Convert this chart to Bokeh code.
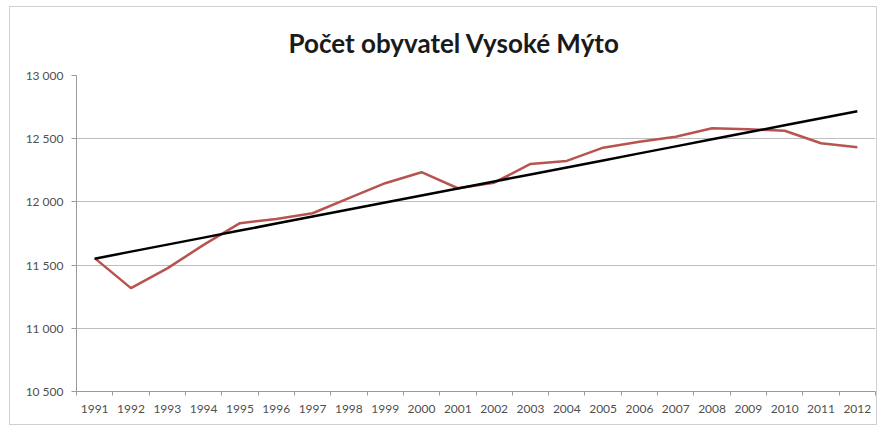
import numpy as np
from bokeh.plotting import figure
from bokeh.models import FixedTicker, ColumnDataSource, Range1d
from bokeh.embed import file_html
from bokeh.resources import INLINE

years = list(range(1991, 2013))
population = [11555, 11318, 11474, 11660, 11832, 11865, 11910, 12030, 12148, 12235, 12108,
              12152, 12300, 12324, 12429, 12476, 12516, 12582, 12574, 12563, 12464, 12432]
y_ticks = [10500, 11000, 11500, 12000, 12500, 13000]
y_tick_labels = ["10 500", "11 000", "11 500", "12 000", "12 500", "13 000"]

# linear trend line (Excel trendline)
coef = np.polyfit(years, population, 1)
trend = [float(coef[0] * y + coef[1]) for y in years]

src = ColumnDataSource(dict(x=years, pop=population, trend=trend))

p = figure(width=868, height=419, output_backend="svg", toolbar_location=None,
           title="Počet obyvatel Vysoké Mýto",
           x_range=Range1d(years[0] - 0.5, years[-1] + 0.5),
           y_range=Range1d(y_ticks[0], y_ticks[-1]),
           min_border_left=66, min_border_right=3, min_border_top=65, min_border_bottom=35)

p.title.text_font = "Lato"
p.title.text_font_style = "bold"
p.title.text_font_size = "26px"
p.title.text_color = "#1a1a1a"
p.title.align = "left"
p.title.standoff = 34
p.title.offset = 212

p.line("x", "pop", source=src, line_color="#b85450", line_width=2.5)
p.line("x", "trend", source=src, line_color="#000000", line_width=2.5)

p.outline_line_color = None
p.xgrid.grid_line_color = None
p.ygrid.grid_line_color = "#bdbdbd"
p.ygrid.grid_line_width = 1
p.ygrid.ticker = FixedTicker(ticks=y_ticks)

xa = p.xaxis[0]
xa.ticker = FixedTicker(ticks=years, minor_ticks=[y - 0.5 for y in years] + [years[-1] + 0.5])
xa.major_tick_line_color = None
xa.minor_tick_line_color = "#9a9a9a"
xa.minor_tick_out = 4
xa.minor_tick_in = 0
xa.axis_line_color = "#9a9a9a"
xa.major_label_text_font = "Lato"
xa.major_label_text_font_size = "12px"
xa.major_label_text_color = "#505050"
xa.major_label_standoff = 7

ya = p.yaxis[0]
ya.ticker = FixedTicker(ticks=y_ticks)
ya.major_label_overrides = {t: l for t, l in zip(y_ticks, y_tick_labels)}
ya.major_tick_line_color = "#9a9a9a"
ya.major_tick_out = 5
ya.major_tick_in = 0
ya.minor_tick_line_color = None
ya.axis_line_color = "#9a9a9a"
ya.major_label_text_font = "Lato"
ya.major_label_text_font_size = "12px"
ya.major_label_text_color = "#505050"
ya.major_label_standoff = 8

p.styles = {"border": "1px solid #d0d0d0", "margin-left": "9px", "margin-top": "6px"}

open("out.html", "w").write(file_html(p, INLINE))
